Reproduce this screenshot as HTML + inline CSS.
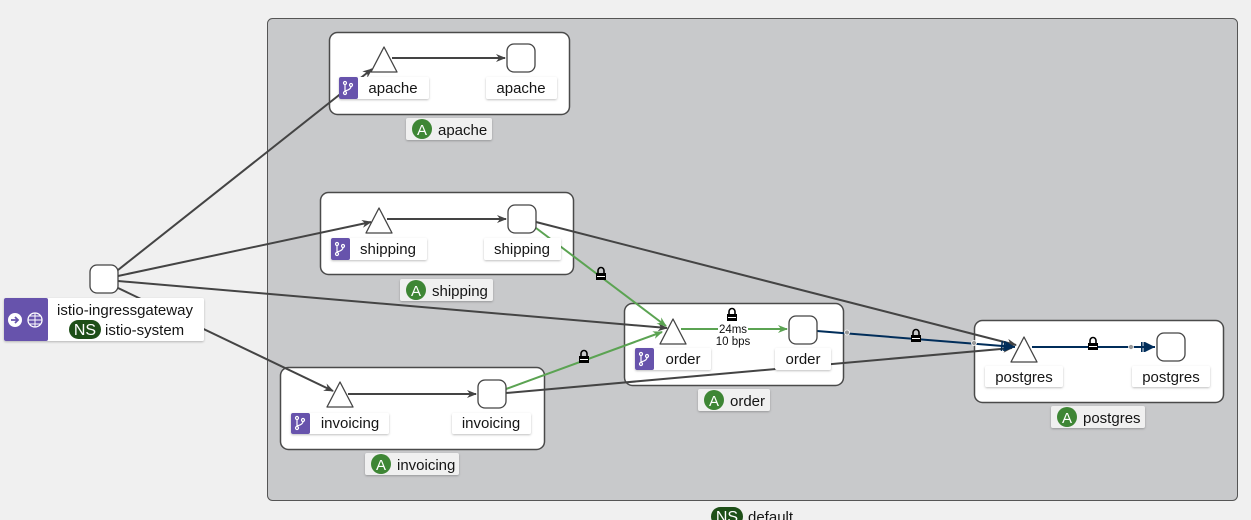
<!DOCTYPE html>
<html><head><meta charset="utf-8">
<style>
html,body{margin:0;padding:0;background:#f0f0f0;}
svg{display:block;font-family:"Liberation Sans",sans-serif;}
</style></head>
<body>
<svg width="1251" height="520" viewBox="0 0 1251 520" xmlns="http://www.w3.org/2000/svg">
<defs>
<marker id="ad" markerWidth="10" markerHeight="8" refX="9" refY="4" orient="auto" markerUnits="userSpaceOnUse"><path d="M0,0 L10,4 L0,8 L3,4z" fill="#444"/></marker>
<marker id="ag" markerWidth="10" markerHeight="8" refX="9" refY="4" orient="auto" markerUnits="userSpaceOnUse"><path d="M0,0 L10,4 L0,8 L3,4z" fill="#5ba352"/></marker>
<marker id="an" markerWidth="16" markerHeight="10" refX="15" refY="5" orient="auto" markerUnits="userSpaceOnUse"><path d="M5,0 L15,5 L5,10z" fill="#002d5a"/><rect x="1" y="0" width="1.6" height="10" fill="#002d5a"/><rect x="3.5" y="0" width="1.6" height="10" fill="#002d5a"/></marker>
<filter id="sh" x="-10%" y="-20%" width="120%" height="150%"><feDropShadow dx="0" dy="1" stdDeviation="1" flood-opacity="0.25"/></filter>
<g id="lock"><rect x="-5" y="-1" width="10" height="7" fill="#000"/><path d="M-3,-1 v-2.5 a3,3 0 0 1 6,0 v2.5" fill="none" stroke="#000" stroke-width="1.6"/><rect x="-4" y="2" width="8" height="1" fill="#fff"/><rect x="-6" y="-5" width="12" height="12" fill="none" stroke="#fff" stroke-width="0.8" opacity="0"/></g>
</defs>

<rect x="267.5" y="18.5" width="970" height="482" rx="5" fill="#c8c9cb" stroke="#555" stroke-width="1"/>

<g fill="#fff" stroke="#4a4a4a" stroke-width="1.5">
<rect x="329.5" y="32.5" width="240" height="82" rx="8"/>
<rect x="320.5" y="192.5" width="253" height="82" rx="8"/>
<rect x="624.5" y="303.5" width="219" height="82" rx="8"/>
<rect x="280.5" y="367.5" width="264" height="82" rx="8"/>
<rect x="974.5" y="320.5" width="249" height="82" rx="8"/>
</g>

<g stroke="#444" stroke-width="2" fill="none">
<line x1="118" y1="270" x2="372" y2="69" marker-end="url(#ad)"/>
<line x1="118" y1="276" x2="371" y2="222" marker-end="url(#ad)"/>
<line x1="118" y1="281" x2="667" y2="328" marker-end="url(#ad)"/>
<line x1="118" y1="288" x2="333" y2="391" marker-end="url(#ad)"/>
<line x1="392" y1="58" x2="505" y2="58" marker-end="url(#ad)"/>
<line x1="387" y1="219" x2="506" y2="219" marker-end="url(#ad)"/>
<line x1="348" y1="394" x2="476" y2="394" marker-end="url(#ad)"/>
<line x1="536" y1="222" x2="1016" y2="345" marker-end="url(#ad)"/>
<line x1="506" y1="393" x2="1012" y2="348" marker-end="url(#ad)"/>
</g>
<g stroke="#5ba352" stroke-width="2" fill="none">
<line x1="536" y1="228" x2="666" y2="326" marker-end="url(#ag)"/>
<line x1="506" y1="389" x2="662" y2="332" marker-end="url(#ag)"/>
<line x1="681" y1="329" x2="787" y2="329" marker-end="url(#ag)"/>
</g>
<g stroke="#002d5a" stroke-width="2" fill="none">
<line x1="817" y1="331" x2="1015" y2="347" marker-end="url(#an)"/>
<line x1="1032" y1="347" x2="1155" y2="347" marker-end="url(#an)"/>
</g>
<circle cx="847" cy="332.5" r="2.5" fill="#999" stroke="#fff" stroke-width="0.8"/>
<circle cx="974" cy="343" r="2.5" fill="#999" stroke="#fff" stroke-width="0.8"/>
<circle cx="1131" cy="347" r="2.5" fill="#999" stroke="#fff" stroke-width="0.8"/>

<use href="#lock" x="601" y="274"/>
<use href="#lock" x="584" y="357"/>
<use href="#lock" x="732" y="315"/>
<use href="#lock" x="916" y="336"/>
<use href="#lock" x="1093" y="344"/>
<rect x="718" y="324" width="30" height="10" fill="#fff"/>
<text x="733" y="333" font-size="11.5" text-anchor="middle" fill="#111">24ms</text>
<text x="733" y="345" font-size="11.5" text-anchor="middle" fill="#111">10 bps</text>

<g fill="#fff" stroke="#444" stroke-width="1.3">
<path d="M384,47 L397,72 L371,72 Z" stroke-linejoin="round"/>
<rect x="507" y="44" width="28" height="28" rx="7"/>
<path d="M379,208 L392,233 L366,233 Z" stroke-linejoin="round"/>
<rect x="508" y="205" width="28" height="28" rx="7"/>
<path d="M673,319 L686,344 L660,344 Z" stroke-linejoin="round"/>
<rect x="789" y="316" width="28" height="28" rx="7"/>
<path d="M340,382 L353,407 L327,407 Z" stroke-linejoin="round"/>
<rect x="478" y="380" width="28" height="28" rx="7"/>
<path d="M1024,337 L1037,362 L1011,362 Z" stroke-linejoin="round"/>
<rect x="1157" y="333" width="28" height="28" rx="7"/>
<rect x="90" y="265" width="28" height="28" rx="7"/>
</g>

<g font-size="15" fill="#151515">
<g filter="url(#sh)"><rect x="339" y="77" width="90" height="22" rx="2" fill="#fff"/></g>
<rect x="339" y="77" width="19" height="22" rx="2" fill="#6753ac"/>
<text x="393" y="93" text-anchor="middle">apache</text>
<g filter="url(#sh)"><rect x="486" y="77" width="71" height="22" rx="2" fill="#fff"/></g>
<text x="521" y="93" text-anchor="middle">apache</text>
<g filter="url(#sh)"><rect x="406" y="118" width="86" height="22" rx="2" fill="#f0f0f0"/></g>
<circle cx="422" cy="129" r="10" fill="#3e8635"/><text x="422" y="135" fill="#fff" text-anchor="middle">A</text>
<text x="438" y="135">apache</text>

<g filter="url(#sh)"><rect x="331" y="238" width="96" height="22" rx="2" fill="#fff"/></g>
<rect x="331" y="238" width="19" height="22" rx="2" fill="#6753ac"/>
<text x="388" y="254" text-anchor="middle">shipping</text>
<g filter="url(#sh)"><rect x="484" y="238" width="77" height="22" rx="2" fill="#fff"/></g>
<text x="522" y="254" text-anchor="middle">shipping</text>
<g filter="url(#sh)"><rect x="400" y="279" width="93" height="22" rx="2" fill="#f0f0f0"/></g>
<circle cx="416" cy="290" r="10" fill="#3e8635"/><text x="416" y="296" fill="#fff" text-anchor="middle">A</text>
<text x="432" y="296">shipping</text>

<g filter="url(#sh)"><rect x="635" y="348" width="76" height="22" rx="2" fill="#fff"/></g>
<rect x="635" y="348" width="19" height="22" rx="2" fill="#6753ac"/>
<text x="683" y="364" text-anchor="middle">order</text>
<g filter="url(#sh)"><rect x="775" y="348" width="56" height="22" rx="2" fill="#fff"/></g>
<text x="803" y="364" text-anchor="middle">order</text>
<g filter="url(#sh)"><rect x="698" y="389" width="72" height="22" rx="2" fill="#f0f0f0"/></g>
<circle cx="714" cy="400" r="10" fill="#3e8635"/><text x="714" y="406" fill="#fff" text-anchor="middle">A</text>
<text x="730" y="406">order</text>

<g filter="url(#sh)"><rect x="291" y="413" width="98" height="21" rx="2" fill="#fff"/></g>
<rect x="291" y="413" width="19" height="21" rx="2" fill="#6753ac"/>
<text x="350" y="428" text-anchor="middle">invoicing</text>
<g filter="url(#sh)"><rect x="452" y="413" width="79" height="21" rx="2" fill="#fff"/></g>
<text x="491" y="428" text-anchor="middle">invoicing</text>
<g filter="url(#sh)"><rect x="365" y="453" width="94" height="22" rx="2" fill="#f0f0f0"/></g>
<circle cx="381" cy="464" r="10" fill="#3e8635"/><text x="381" y="470" fill="#fff" text-anchor="middle">A</text>
<text x="397" y="470">invoicing</text>

<g filter="url(#sh)"><rect x="985" y="366" width="78" height="21" rx="2" fill="#fff"/></g>
<text x="1024" y="382" text-anchor="middle">postgres</text>
<g filter="url(#sh)"><rect x="1132" y="366" width="78" height="21" rx="2" fill="#fff"/></g>
<text x="1171" y="382" text-anchor="middle">postgres</text>
<g filter="url(#sh)"><rect x="1051" y="406" width="94" height="22" rx="2" fill="#f0f0f0"/></g>
<circle cx="1067" cy="417" r="10" fill="#3e8635"/><text x="1067" y="423" fill="#fff" text-anchor="middle">A</text>
<text x="1083" y="423">postgres</text>

<g filter="url(#sh)"><rect x="4" y="298" width="200" height="43" rx="2" fill="#fff"/></g>
<rect x="4" y="298" width="44" height="43" rx="2" fill="#6753ac"/>
<circle cx="15" cy="320" r="7" fill="#fff"/>
<path d="M11,320 h6 M15,317 l3,3 l-3,3" stroke="#6753ac" stroke-width="1.8" fill="none"/>
<circle cx="35" cy="320" r="7" fill="none" stroke="#fff" stroke-width="1.3"/>
<path d="M28,320 h14 M35,313 v14 M30,316 h10 M30,324 h10" stroke="#fff" stroke-width="1"/>
<text x="125" y="315" text-anchor="middle">istio-ingressgateway</text>
<rect x="69" y="320" width="32" height="19" rx="9.5" fill="#1e4f18"/>
<text x="85" y="335" fill="#fff" text-anchor="middle" font-size="16">NS</text>
<text x="105" y="335">istio-system</text>

<rect x="709" y="505" width="89" height="20" rx="2" fill="#f0f0f0"/>
<rect x="711" y="507" width="32" height="19" rx="9.5" fill="#1e4f18"/>
<text x="727" y="522" fill="#fff" text-anchor="middle" font-size="16">NS</text>
<text x="748" y="522">default</text>
</g>

<g stroke="#fff" stroke-width="1.2" fill="none">
<g transform="translate(348,88)"><circle cx="-3" cy="-5" r="1.5"/><circle cx="-3" cy="5" r="1.5"/><circle cx="3" cy="-3" r="1.5"/><path d="M-3,-3.5 v7 M3,-1.5 q0,3 -6,4.5"/></g>
<g transform="translate(340,249)"><circle cx="-3" cy="-5" r="1.5"/><circle cx="-3" cy="5" r="1.5"/><circle cx="3" cy="-3" r="1.5"/><path d="M-3,-3.5 v7 M3,-1.5 q0,3 -6,4.5"/></g>
<g transform="translate(644,359)"><circle cx="-3" cy="-5" r="1.5"/><circle cx="-3" cy="5" r="1.5"/><circle cx="3" cy="-3" r="1.5"/><path d="M-3,-3.5 v7 M3,-1.5 q0,3 -6,4.5"/></g>
<g transform="translate(300,423)"><circle cx="-3" cy="-5" r="1.5"/><circle cx="-3" cy="5" r="1.5"/><circle cx="3" cy="-3" r="1.5"/><path d="M-3,-3.5 v7 M3,-1.5 q0,3 -6,4.5"/></g>
</g>
</svg>
</body></html>
